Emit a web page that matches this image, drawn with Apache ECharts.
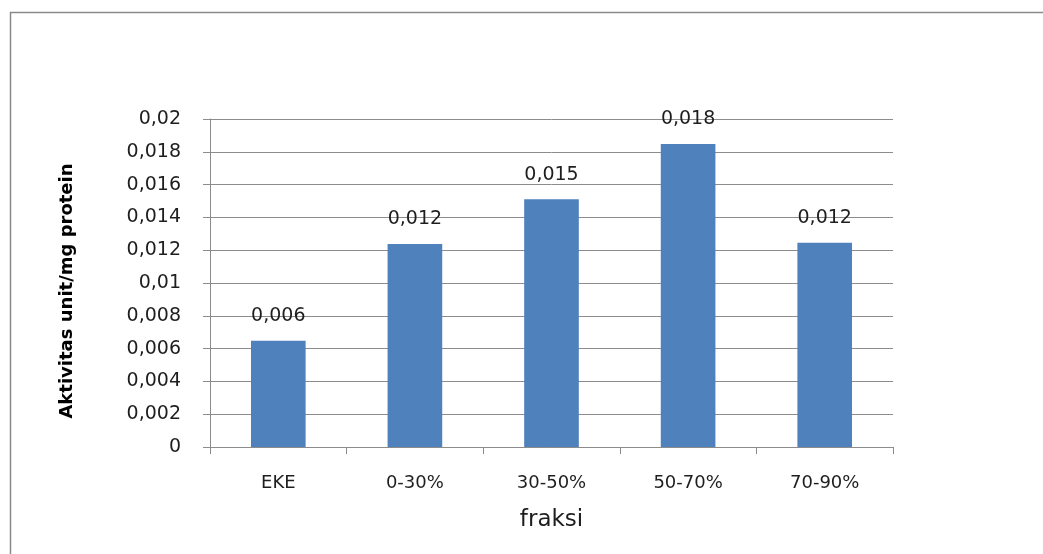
<!DOCTYPE html>
<html>
<head>
<meta charset="utf-8">
<style>
  html, body { margin: 0; padding: 0; background: #fff; }
  #chart { width: 1043px; height: 554px; }
</style>
<script src="https://cdn.jsdelivr.net/npm/echarts@6/dist/echarts.min.js"></script>
</head>
<body>
<div id="chart"></div>
<script>
// Fractions and enzyme activity (unit/mg protein)
const categories = ['EKE', '0-30%', '30-50%', '50-70%', '70-90%'];
const activity = [0.00648, 0.01238, 0.0151, 0.01848, 0.01246];
const yTicks = { min: 0, max: 0.02, interval: 0.002 };
const yAxisTitle = 'Aktivitas unit/mg protein';
const xAxisTitle = 'fraksi';

// decimal comma, e.g. 0,018
const comma = (v, d) => (d == null ? String(+v.toFixed(6)) : v.toFixed(d)).replace('.', ',');

const chart = echarts.init(document.getElementById('chart'), null, { renderer: 'canvas' });
const font = '"DejaVu Sans", "Open Sans", sans-serif';
const textColor = '#1e1e1e';

chart.setOption({
  animation: false,
  backgroundColor: '#ffffff',
  graphic: [{
    type: 'rect',
    shape: { x: 10.5, y: 12.5, width: 1100, height: 600 },
    style: { fill: 'none', stroke: '#8a8a8a', lineWidth: 1.5 },
    silent: true,
    z: -1
  }],
  grid: { left: 210, right: 150, top: 119, bottom: 107, containLabel: false },
  xAxis: {
    type: 'category',
    data: categories,
    name: xAxisTitle,
    nameLocation: 'middle',
    nameGap: 62,
    nameTextStyle: { fontFamily: font, fontSize: 23, color: textColor },
    axisLine: { lineStyle: { color: '#8c8c8c', width: 1 } },
    axisTick: { show: true, length: 7, alignWithLabel: false, lineStyle: { color: '#8c8c8c' } },
    axisLabel: { fontFamily: font, fontSize: 18, color: textColor, margin: 27 }
  },
  yAxis: {
    type: 'value',
    min: yTicks.min,
    max: yTicks.max,
    interval: yTicks.interval,
    name: yAxisTitle,
    nameLocation: 'middle',
    nameGap: 134,
    nameRotate: 90,
    nameTextStyle: {
      fontFamily: font, fontSize: 18, fontWeight: 'bold', color: '#000',
      padding: [0, 16, 0, 0]
    },
    axisLine: { show: true, lineStyle: { color: '#8c8c8c', width: 1 } },
    axisTick: { show: true, length: 7, lineStyle: { color: '#8c8c8c' } },
    splitLine: { show: true, lineStyle: { color: '#8c8c8c', width: 1 } },
    axisLabel: {
      fontFamily: font, fontSize: 19, color: textColor, margin: 29,
      formatter: v => comma(v)
    }
  },
  series: [{
    type: 'bar',
    data: activity,
    barWidth: '40%',
    itemStyle: { color: '#4f81bd' },
    label: {
      show: true,
      position: 'top',
      distance: 15,
      fontFamily: font,
      fontSize: 19,
      color: textColor,
      formatter: p => comma(p.value, 3)
    }
  }]
});
</script>
</body>
</html>
